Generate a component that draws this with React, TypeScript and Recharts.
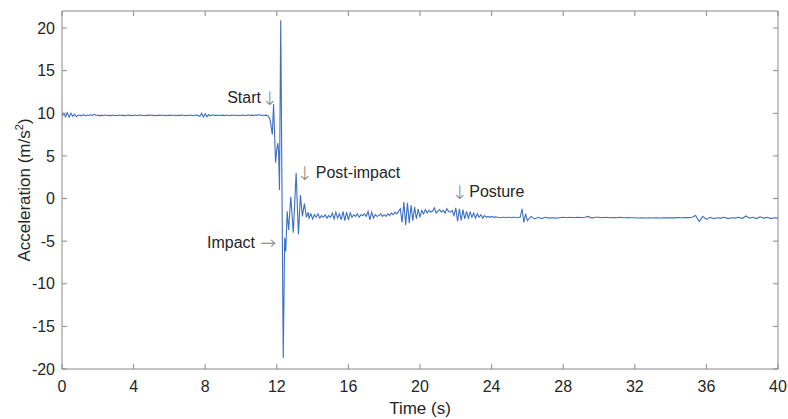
import React from 'react';
import { LineChart, Line, XAxis, YAxis, ReferenceArea, ReferenceDot, Label } from 'recharts';

// quiet standing, sampled every 0.1 s from 0 s
const quietStart = 0;
const quietStep = 0.1;
const quietValues = [
  9.7, 10.0, 9.6, 10.05, 9.55, 10.0, 9.65, 9.9, 9.6, 9.75,
  9.8, 9.7, 9.85, 9.7, 9.8, 9.75, 9.85, 9.7, 9.9, 9.75,
  9.8, 9.7, 9.78, 9.72, 9.8, 9.74, 9.76, 9.7, 9.8, 9.74,
  9.76, 9.72, 9.8, 9.74, 9.78, 9.7, 9.76, 9.8, 9.73, 9.77,
  9.74, 9.79, 9.72, 9.76, 9.8, 9.74, 9.77, 9.72, 9.78, 9.75,
  9.8, 9.73, 9.76, 9.71, 9.78, 9.75, 9.8, 9.74, 9.77, 9.72,
  9.78, 9.74, 9.8, 9.75, 9.72, 9.78, 9.74, 9.8, 9.76, 9.73,
  9.77, 9.74, 9.79, 9.72, 9.76, 9.8, 9.74, 9.65, 10.0, 9.55,
  9.95, 9.6, 9.85, 9.7, 9.82, 9.74, 9.78, 9.72, 9.8, 9.75,
  9.78, 9.72, 9.8, 9.76, 9.73, 9.79, 9.75, 9.8, 9.72, 9.77,
  9.74, 9.8, 9.76, 9.72, 9.82, 9.75, 9.78, 9.73, 9.8, 9.76,
  9.85, 9.74, 9.8, 9.75, 9.78,
];

// fall and impact, irregular samples
const eventTimes = [
  11.5, 11.58, 11.65, 11.7, 11.75, 11.82, 11.93, 12.0, 12.06, 12.1,
  12.15, 12.22, 12.36, 12.44, 12.5, 12.58, 12.66, 12.78, 12.92, 13.08,
  13.21, 13.32, 13.43, 13.54, 13.65, 13.75,
];
const eventValues = [
  9.7, 9.5, 9.0, 8.2, 7.5, 11.1, 4.2, 5.8, 6.5, 5.5,
  1.0, 20.9, -18.7, -4.6, -6.2, -1.5, -3.7, 0.2, -4.0, 3.0,
  -4.2, 0.4, -2.1, -0.6, -2.2, -1.6,
];

// post-impact, every 0.1 s from 13.8 s
const postStart = 13.8;
const postStep = 0.1;
const postValues = [
  -2.3, -1.8,
  -2.4, -1.9, -2.2, -1.8, -2.3, -2.0, -2.2, -1.9, -2.3, -2.0,
  -2.2, -1.7, -2.4, -1.6, -2.3, -1.8, -2.5, -1.5, -2.6, -1.6,
  -2.5, -1.7, -2.2, -1.9, -2.1, -1.8, -2.2, -1.9, -2.0, -1.8,
  -2.1, -1.5, -2.5, -1.6, -2.3, -1.9, -2.1, -2.0, -1.8, -2.1,
  -1.9, -2.1, -1.8, -2.0, -1.7, -1.9, -1.6, -1.8, -1.5, -1.2,
  -2.8, -0.4, -3.1, -0.5, -2.9, -0.8, -2.6, -1.0, -2.4, -1.2,
  -2.2, -1.4, -1.8, -1.3, -1.7, -1.4, -1.6, -1.5, -1.1, -1.7,
  -1.5, -1.3, -1.6, -1.4, -1.7, -1.2, -1.5, -1.6, -1.4, -2.0,
  -1.1, -2.7, -1.2, -2.6, -1.3, -2.4, -1.5, -2.3, -1.6, -2.2,
  -1.7, -2.3, -1.8, -2.2, -1.9, -2.3, -2.0, -2.2, -2.1, -2.2,
  -2.1, -2.2, -2.15, -2.2, -2.2, -2.25, -2.2, -2.2, -2.25, -2.2,
  -2.2, -2.25, -2.2, -2.2, -2.25, -2.2, -2.2, -1.2, -2.8, -1.8,
];

// posture, every 0.2 s from 26 s
const postureStart = 26;
const postureStep = 0.2;
const postureValues = [
  -2.6, -2.1, -2.4, -2.2, -2.35, -2.2, -2.3, -2.25, -2.3, -2.25,
  -2.2, -2.25, -2.2, -2.25, -2.2, -2.25, -2.2, -2.1, -2.3, -2.2,
  -2.2, -2.25, -2.2, -2.25, -2.22, -2.25, -2.2, -2.25, -2.22, -2.25,
  -2.25, -2.28, -2.25, -2.28, -2.25, -2.28, -2.26, -2.28, -2.25, -2.27,
  -2.25, -2.27, -2.24, -2.26, -2.22, -2.24, -2.2, -2.0, -2.7, -2.1,
  -2.45, -2.2, -2.35, -2.25, -2.3, -2.2, -2.35, -2.25, -2.3, -2.2,
  -2.35, -2.05, -2.3, -2.2, -2.35, -2.15, -2.3, -2.2, -2.35, -2.25,
  -2.3,
];

const xTicks = [0, 4, 8, 12, 16, 20, 24, 28, 32, 36, 40];
const yTicks = [-20, -15, -10, -5, 0, 5, 10, 15, 20];

const W = 788;
const H = 419;
const M = { top: 11, right: 10, bottom: 0, left: 0 };
const PLOT_TOP = M.top;
const PLOT_RIGHT = W - M.right;
const FONT = '"Liberation Sans", Arial, sans-serif';
const ARROW_FONT = '"DejaVu Sans", sans-serif';
const AXIS = '#8a8a8a';
const TEXT = '#262626';
const LINE = '#3d6fc3';

const r2 = (n: number) => Math.round(n * 100) / 100;

const data = [
  ...quietValues.map((v, i) => ({ t: r2(quietStart + i * quietStep), v })),
  ...eventTimes.map((t, i) => ({ t, v: eventValues[i] })),
  ...postValues.map((v, i) => ({ t: r2(postStart + i * postStep), v })),
  ...postureValues.map((v, i) => ({ t: r2(postureStart + i * postureStep), v })),
];

function XTick({ x, y, payload }: any) {
  return (
    <g>
      <line x1={x} x2={x} y1={y} y2={y - 5} stroke={AXIS} />
      <line x1={x} x2={x} y1={PLOT_TOP} y2={PLOT_TOP + 5} stroke={AXIS} />
      <text x={x} y={y + 23} textAnchor="middle" fontSize={16} fontFamily={FONT} fill={TEXT}>
        {payload.value}
      </text>
    </g>
  );
}

function YTick({ x, y, payload }: any) {
  return (
    <g>
      <line x1={x} x2={x + 5} y1={y} y2={y} stroke={AXIS} />
      <line x1={PLOT_RIGHT} x2={PLOT_RIGHT - 5} y1={y} y2={y} stroke={AXIS} />
      <text x={x - 7} y={y + 5.7} textAnchor="end" fontSize={16} fontFamily={FONT} fill={TEXT}>
        {payload.value}
      </text>
    </g>
  );
}

// the dot sits on the arrow's centre at the text baseline; the word is offset by dx px
const annotation = (word: string, arrow: string, dx: number) =>
  ({ viewBox }: any) => (
    <g>
      <text
        x={viewBox.x}
        y={viewBox.y + (arrow === '↓' ? 2 : 1)}
        textAnchor="middle"
        fontSize={19}
        fontWeight={200}
        fontFamily={ARROW_FONT}
        fill="#808080"
      >
        {arrow}
      </text>
      <text
        x={viewBox.x + dx}
        y={viewBox.y}
        textAnchor={dx < 0 ? 'end' : 'start'}
        fontSize={16}
        fontFamily={FONT}
        fill={TEXT}
      >
        {word}
      </text>
    </g>
  );

export default function App() {
  return (
    <div style={{ position: 'absolute', left: 0, top: 0, width: W, height: H, background: '#fff' }}>
      <LineChart width={W} height={H} data={data} margin={M}>
        <XAxis
          dataKey="t"
          type="number"
          domain={[0, 40]}
          ticks={xTicks}
          allowDataOverflow
          axisLine={false}
          tickLine={false}
          tickSize={0}
          tickMargin={0}
          tick={<XTick />}
          height={50}
        >
          <Label
            content={({ viewBox }: any) => (
              <text
                x={viewBox.x + viewBox.width / 2}
                y={viewBox.y + 45}
                textAnchor="middle"
                fontSize={17}
                fontFamily={FONT}
                fill={TEXT}
              >
                Time (s)
              </text>
            )}
          />
        </XAxis>
        <YAxis
          type="number"
          domain={[-20, 22]}
          ticks={yTicks}
          allowDataOverflow
          axisLine={false}
          tickLine={false}
          tickSize={0}
          tickMargin={0}
          tick={<YTick />}
          width={62}
        >
          <Label
            content={({ viewBox }: any) => {
              const cx = viewBox.x + 30;
              const cy = viewBox.y + viewBox.height / 2;
              return (
                <text
                  x={cx}
                  y={cy}
                  transform={`rotate(-90 ${cx} ${cy})`}
                  textAnchor="middle"
                  fontSize={17}
                  fontFamily={FONT}
                  fill={TEXT}
                >
                  Acceleration (m/s
                  <tspan fontSize={11} dy={-7}>2</tspan>
                  <tspan dy={7}>)</tspan>
                </text>
              );
            }}
          />
        </YAxis>
        <ReferenceArea x1={0} x2={40} y1={-20} y2={22} fill="none" stroke={AXIS} strokeWidth={1} />
        <Line
          type="linear"
          dataKey="v"
          stroke={LINE}
          strokeWidth={1.1}
          dot={false}
          activeDot={false}
          isAnimationActive={false}
        />
        <ReferenceDot x={11.62} y={11.17} r={0} label={{ content: annotation('Start', '↓', -9) }} />
        <ReferenceDot x={11.51} y={-5.86} r={0} label={{ content: annotation('Impact', '→', -13) }} />
        <ReferenceDot x={13.58} y={2.37} r={0} label={{ content: annotation('Post-impact', '↓', 10.7) }} />
        <ReferenceDot x={22.23} y={0.21} r={0} label={{ content: annotation('Posture', '↓', 9.3) }} />
      </LineChart>
    </div>
  );
}
